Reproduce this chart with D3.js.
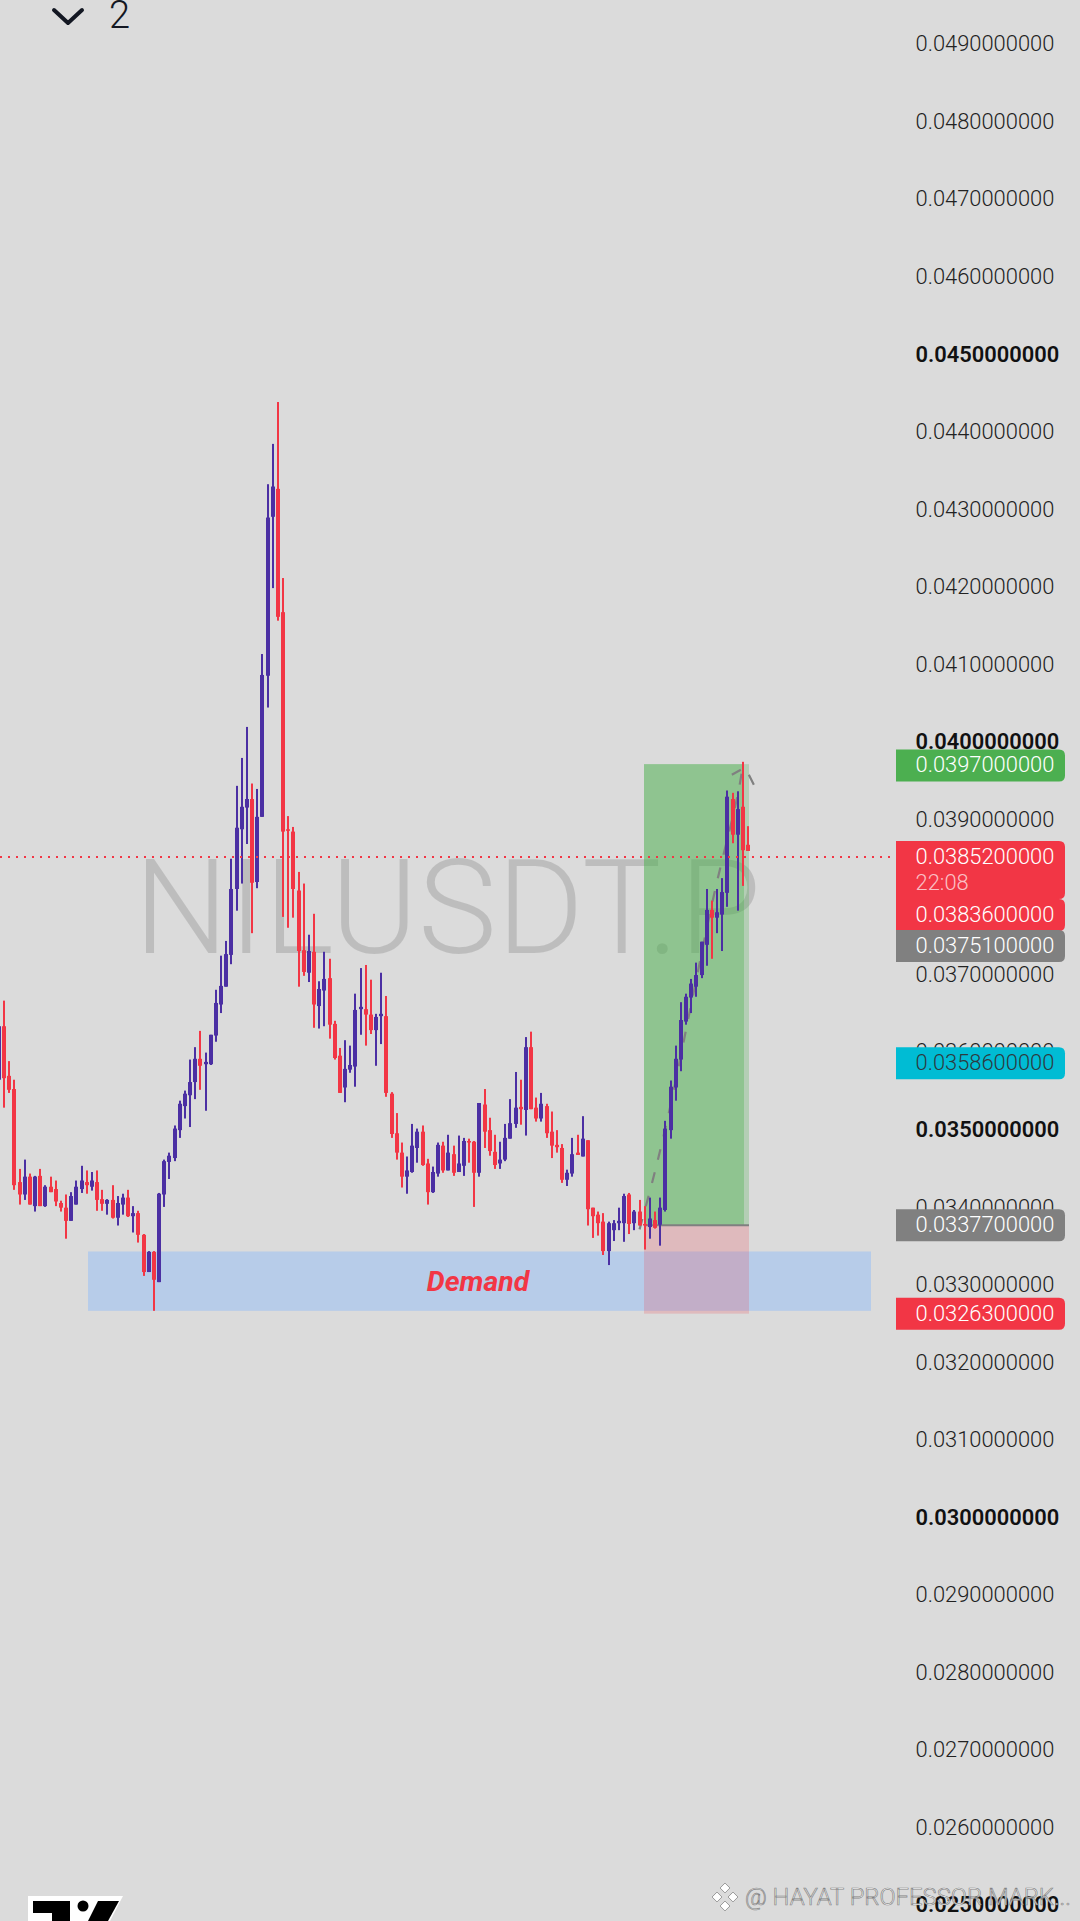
<!DOCTYPE html>
<html><head><meta charset="utf-8">
<script src="https://cdn.jsdelivr.net/npm/d3@7/dist/d3.min.js"></script>
<style>html,body{margin:0;padding:0;background:#dbdbdb;overflow:hidden}svg{display:block}</style>
</head><body><div id="chart"></div>
<script>
// prices are in units of 0.00001
const opens=[3563,3632,3568,3551,3431,3415,3438,3400,3439,3400,3425,3422,3404,3398,3381,3402,3422,3431,3425,3431,3409,3403,3408,3385,3402,3411,3387,3391,3363,3315,3341,3302,3415,3457,3462,3498,3529,3543,3560,3590,3583,3583,3620,3660,3683,3724,3809,3886,3914,3925,3818,3902,4084,4289,4325,4166,3886,3883,3807,3730,3701,3728,3658,3678,3694,3635,3594,3553,3576,3580,3654,3654,3647,3627,3645,3645,3545,3494,3469,3438,3444,3475,3496,3455,3418,3442,3478,3446,3467,3444,3452,3484,3483,3443,3531,3498,3470,3455,3460,3487,3506,3528,3524,3605,3527,3513,3529,3496,3479,3475,3434,3442,3469,3464,3485,3398,3389,3380,3342,3369,3378,3378,3415,3378,3393,3377,3373,3382,3376,3395,3498,3553,3589,3638,3669,3683,3698,3737,3782,3772,3776,3804,3925,3879,3915,3866];
const highs=[3632,3665,3587,3563,3448,3460,3442,3439,3448,3427,3438,3433,3407,3415,3418,3433,3452,3446,3444,3446,3421,3409,3427,3413,3416,3421,3400,3394,3364,3342,3342,3417,3460,3469,3504,3536,3549,3589,3605,3626,3598,3621,3679,3723,3742,3848,3942,3978,4018,3945,3938,4112,4331,4383,4437,4210,3903,3889,3831,3816,3750,3777,3690,3728,3719,3639,3604,3614,3607,3674,3707,3711,3692,3648,3701,3671,3547,3520,3482,3464,3506,3500,3504,3461,3451,3482,3483,3492,3478,3491,3488,3487,3484,3533,3551,3514,3492,3483,3506,3538,3573,3563,3618,3625,3540,3546,3532,3522,3498,3480,3447,3488,3492,3516,3485,3398,3393,3391,3380,3382,3398,3416,3417,3395,3408,3400,3411,3393,3411,3510,3562,3607,3663,3674,3693,3714,3741,3809,3794,3809,3823,3936,3933,3935,3973,3890];
const lows=[3540,3527,3546,3421,3402,3408,3402,3393,3400,3399,3418,3400,3393,3358,3381,3402,3417,3416,3420,3394,3394,3389,3384,3375,3389,3386,3366,3353,3310,3315,3265,3302,3399,3435,3458,3488,3513,3502,3538,3550,3523,3582,3612,3649,3683,3712,3781,3816,3867,3752,3810,3902,4043,4197,4155,3773,3759,3772,3683,3697,3689,3630,3629,3632,3616,3589,3546,3534,3572,3554,3621,3607,3622,3581,3609,3541,3488,3460,3424,3416,3443,3456,3452,3402,3417,3438,3443,3446,3439,3444,3439,3456,3399,3438,3475,3465,3448,3448,3458,3487,3501,3505,3491,3525,3509,3509,3488,3462,3469,3430,3426,3438,3466,3464,3375,3359,3362,3337,3324,3355,3369,3354,3364,3369,3375,3344,3358,3371,3349,3393,3487,3536,3574,3634,3649,3670,3694,3710,3719,3752,3729,3786,3868,3781,3813,3858];
const closes=[3632,3565,3550,3427,3415,3438,3402,3438,3400,3425,3418,3406,3398,3381,3413,3425,3433,3427,3433,3408,3403,3408,3385,3404,3411,3387,3391,3363,3315,3341,3305,3416,3458,3465,3500,3532,3545,3560,3590,3581,3586,3621,3662,3684,3725,3809,3888,3915,3925,3817,3902,4085,4288,4328,4160,3883,3884,3809,3729,3702,3729,3660,3680,3693,3634,3591,3546,3577,3582,3653,3657,3647,3627,3644,3648,3546,3493,3469,3438,3446,3478,3496,3453,3418,3444,3479,3446,3469,3443,3455,3484,3482,3443,3533,3496,3471,3453,3460,3488,3507,3527,3525,3605,3525,3513,3532,3494,3478,3476,3434,3443,3467,3466,3487,3396,3387,3378,3342,3378,3378,3381,3413,3377,3393,3375,3375,3384,3372,3398,3500,3554,3590,3640,3670,3687,3698,3741,3782,3772,3779,3805,3928,3879,3912,3859,3858];
const axisTicks=[49,48,47,46,45,44,43,42,41,40,39,38,37,36,35,34,33,32,31,30,29,28,27,26,25].map(d=>d/1000);
const boldTicks=[45,40,35,30,25].map(d=>d/1000);
const labelPrices=[0.0397,0.03852,0.03836,0.03751,0.03586,0.03377,0.03263];
const labelColors=["#4caf50","#f23645","#f23645","#808080","#00bcd4","#808080","#f23645"];
const labelInk=["#fff","#fff","#fff","#fff","#2d3a40","#fff","#fff"];
const lastPrice=0.03852, countdown="22:08";
const entryPrice=0.03377, targetPrice=0.0397, stopPrice=0.03263;
const demandTop=0.033415, demandBottom=0.03265;
const projIdx=[124,127,130,134,138.4,143,144], projPrice=[3370,3445,3530,3660,3801,3930,3968];

const W=1080,H=1921;
const svg=d3.select("#chart").append("svg").attr("width",W).attr("height",H);
svg.append("rect").attr("width",W).attr("height",H).attr("fill","#dbdbdb");
const x=d3.scaleLinear().domain([0,opens.length-1]).range([-1,748]);
const y=d3.scaleLinear().domain([0.049,0.025]).range([43,1904]);
const u=v=>y(v/100000);
const yp=p=>y(p)+1.3; // price lines and tools sit a touch below the tick text centre

// symbol watermark
svg.append("text").attr("x",134).attr("y",953).attr("font-family","Roboto").attr("font-weight",300)
  .attr("font-size",131).attr("fill","#000").attr("fill-opacity",.135)
  .attr("textLength",627).attr("lengthAdjust","spacingAndGlyphs").text("NILUSDT.P");

// demand zone
svg.append("rect").attr("x",88).attr("width",783).attr("y",y(demandTop)).attr("height",y(demandBottom)-y(demandTop)).attr("fill","#b7cce9");
svg.append("text").attr("x",478).attr("y",1291).attr("text-anchor","middle").attr("font-family","Roboto").attr("font-style","italic").attr("font-weight",700).attr("font-size",28.4).attr("fill","#f23645").text("Demand");

// long position tool
const px0=644,px1=749,pxIn=744;
svg.append("rect").attr("x",px0).attr("width",px1-px0).attr("y",y(targetPrice)).attr("height",yp(entryPrice)-y(targetPrice)).attr("fill","rgb(76,175,80)").attr("fill-opacity",.27);
svg.append("rect").attr("x",px0).attr("width",pxIn-px0).attr("y",y(targetPrice)).attr("height",yp(entryPrice)-y(targetPrice)).attr("fill","rgb(70,175,70)").attr("fill-opacity",.33);
svg.append("rect").attr("x",px0).attr("width",px1-px0).attr("y",yp(entryPrice)).attr("height",yp(stopPrice)-yp(entryPrice)).attr("fill","rgb(242,54,69)").attr("fill-opacity",.2);
svg.append("rect").attr("x",px0).attr("width",px1-px0).attr("y",yp(entryPrice)-1).attr("height",2).attr("fill","#808080");

// projection dashed path
const line=d3.line().x((d,i)=>x(projIdx[i])).y(d=>u(d)).curve(d3.curveCatmullRom);
svg.append("path").attr("d",line(projPrice)).attr("fill","none").attr("stroke","#808080").attr("stroke-width",2.2).attr("stroke-dasharray","11 13");
const tipX=x(144),tipY=u(3968);
svg.append("path").attr("d",`M${tipX-11},${tipY+9}L${tipX-2},${tipY+4}M${tipX+6},${tipY+9}L${tipX+11},${tipY+19}`).attr("fill","none").attr("stroke","#808080").attr("stroke-width",2.2);

// candles
const idx=d3.range(opens.length);
const col=i=>closes[i]>=opens[i]?"#4b2fa3":"#f23645";
const g=svg.append("g");
g.selectAll("rect.w").data(idx).join("rect").attr("class","w")
  .attr("x",i=>Math.round(x(i))-1).attr("width",2)
  .attr("y",i=>u(highs[i])).attr("height",i=>u(lows[i])-u(highs[i])).attr("fill",col);
g.selectAll("rect.b").data(idx).join("rect").attr("class","b")
  .attr("x",i=>Math.round(x(i))-2).attr("width",4)
  .attr("y",i=>Math.min(u(opens[i]),u(closes[i])))
  .attr("height",i=>Math.max(1.5,Math.abs(u(opens[i])-u(closes[i])))).attr("fill",col);

// last price line
svg.append("line").attr("x1",0).attr("x2",895).attr("y1",yp(lastPrice)).attr("y2",yp(lastPrice)).attr("stroke","#f23645").attr("stroke-width",2).attr("stroke-dasharray","2 6");

// price axis
const axis=d3.axisRight(y).tickValues(axisTicks).tickSize(0).tickPadding(0).tickFormat(d=>d.toFixed(10));
const ag=svg.append("g").attr("transform","translate(915.5,0)").call(axis);
ag.select(".domain").remove();
ag.selectAll("text").attr("font-family","Roboto").attr("font-size",21.9).attr("x",0).attr("dy","0.36em")
  .attr("font-weight",d=>boldTicks.some(b=>Math.abs(b-d)<1e-9)?600:300)
  .attr("fill",d=>boldTicks.some(b=>Math.abs(b-d)<1e-9)?"#111":"#222");

// price labels, stacked when they collide
let prevBottom=-1e9;
labelPrices.forEach((p,i)=>{
  const isLast=p===lastPrice, h=isLast?58:32;
  const top=Math.max(yp(p)-16,prevBottom);
  prevBottom=top+h-(isLast?0:1);
  const bx=896,bw=169,r=6;
  svg.append("path").attr("d",`M${bx},${top}H${bx+bw-r}Q${bx+bw},${top} ${bx+bw},${top+r}V${top+h-r}Q${bx+bw},${top+h} ${bx+bw-r},${top+h}H${bx}Z`).attr("fill",labelColors[i]);
  svg.append("text").attr("x",915.5).attr("y",top+15).attr("dy","0.36em").attr("font-family","Roboto").attr("font-weight",300).attr("font-size",21.9).attr("fill",labelInk[i]).text(p.toFixed(10));
  if(isLast) svg.append("text").attr("x",915.5).attr("y",top+41).attr("dy","0.36em").attr("font-family","Roboto").attr("font-weight",300).attr("font-size",21.9).attr("fill","#fff").attr("fill-opacity",.7).text(countdown);
});

// header
svg.append("path").attr("d","M54,10L68,23L82,10").attr("fill","none").attr("stroke","#131722").attr("stroke-width",4).attr("stroke-linecap","round").attr("stroke-linejoin","round");
svg.append("text").attr("x",109).attr("y",28).attr("font-family","Roboto").attr("font-weight",300).attr("font-size",38).attr("fill","#131722").text("2");

// logo
svg.append("path").attr("d","M28,1896H123L110,1921H28Z").attr("fill","#fff");
svg.append("path").attr("d","M33,1901H70V1921H52V1913H33Z").attr("fill","#000");
svg.append("circle").attr("cx",83).attr("cy",1906).attr("r",5.5).attr("fill","#000");
svg.append("path").attr("d","M98,1901H119L108,1921H88Z").attr("fill","#000");

// platform credit
const cg=svg.append("g").attr("fill","#fff").attr("stroke","#8a8a8a").attr("stroke-width",.8);
[[725,1888],[717,1897],[733,1897],[725,1906]].forEach(c=>cg.append("rect").attr("x",c[0]-3.5).attr("y",c[1]-3.5).attr("width",7).attr("height",7).attr("transform",`rotate(45 ${c[0]} ${c[1]})`));
svg.append("text").attr("x",745).attr("y",1905).attr("font-family","Roboto").attr("font-weight",300).attr("font-size",23).attr("fill","#fff").attr("fill-opacity",.9).attr("stroke","#6f6f6f").attr("stroke-opacity",.85).attr("stroke-width",.7).attr("textLength",326).attr("lengthAdjust","spacingAndGlyphs").text("@ HAYAT PROFESSOR MARK...");
</script></body></html>
